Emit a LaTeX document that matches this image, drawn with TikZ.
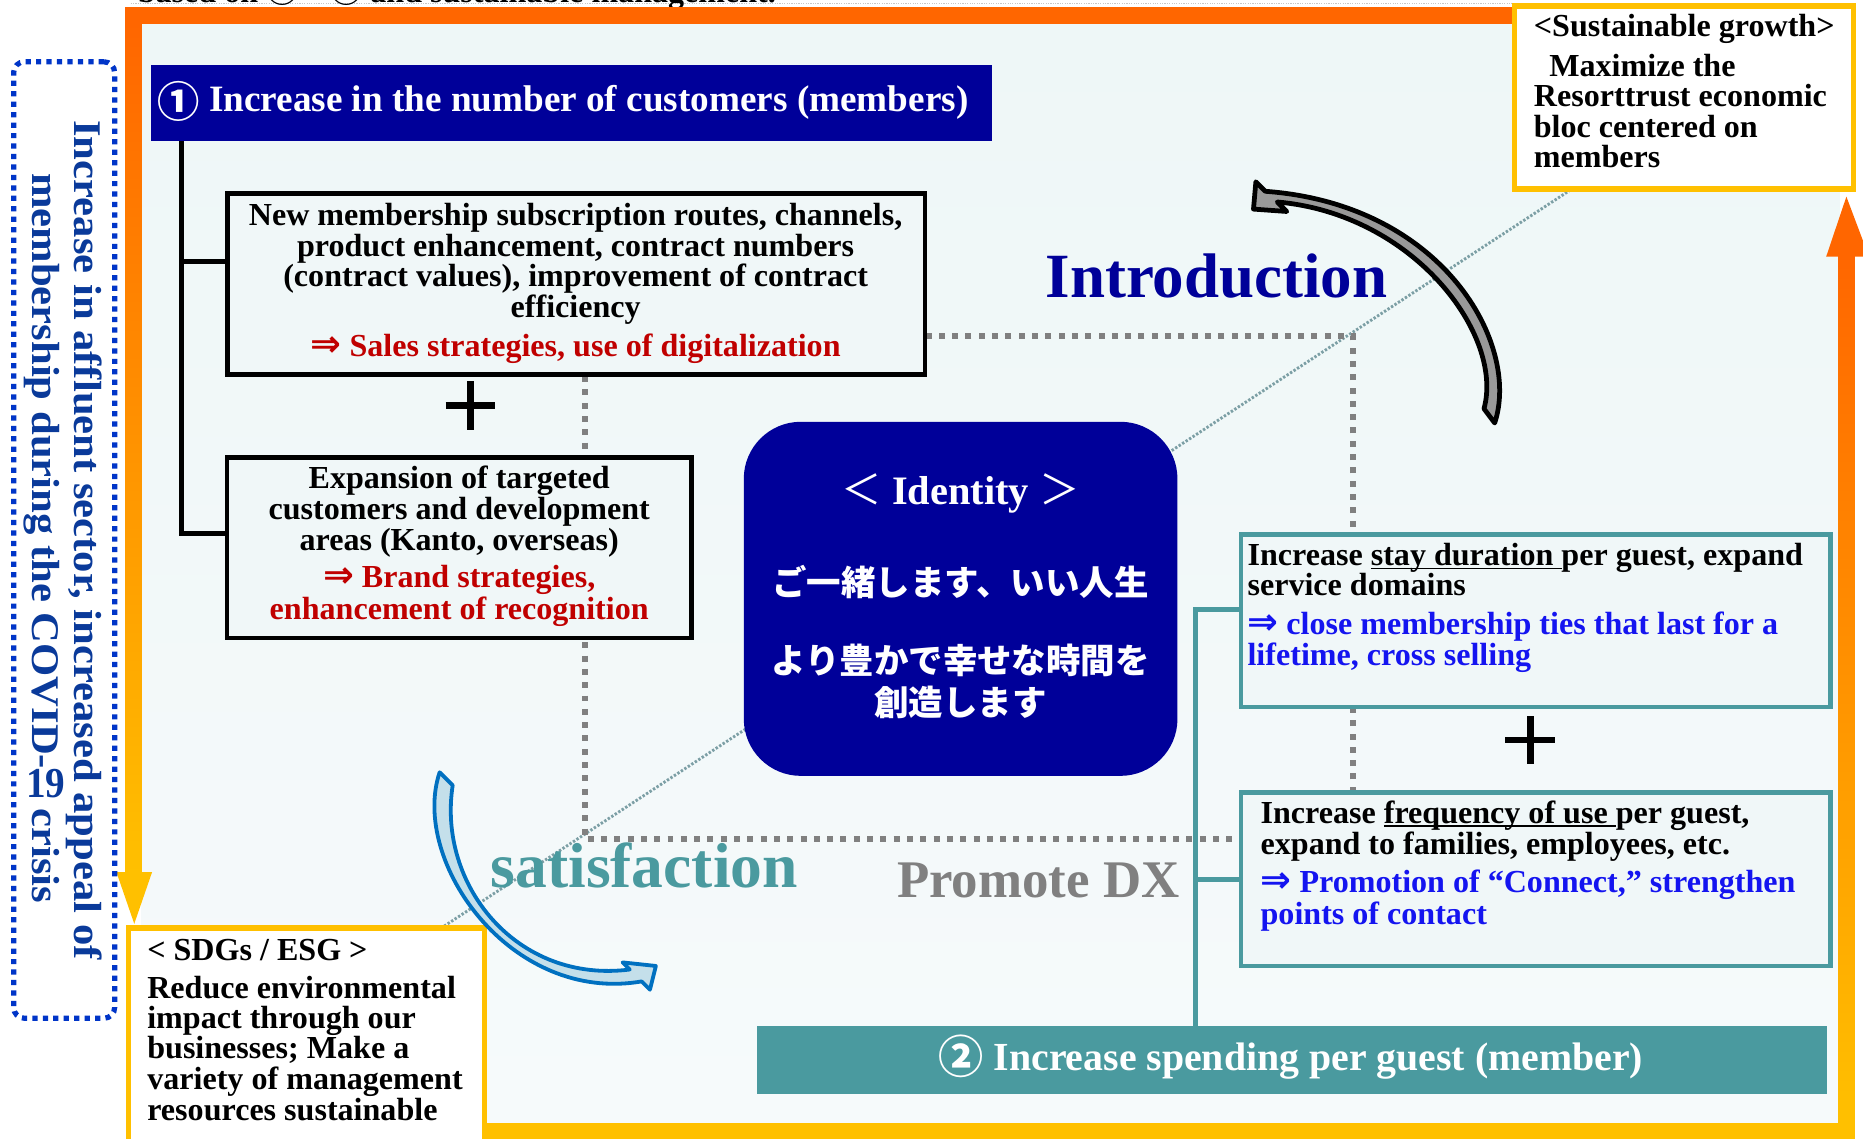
\documentclass[tikz,border=0pt]{standalone}
\usepackage{fontspec}
\usepackage{graphicx}
\setmainfont{Liberation Serif}
\newfontfamily\cjk{Noto Sans CJK JP}
\newfontfamily\symf{DejaVu Sans}
\usetikzlibrary{calc}
\definecolor{cNavy}{HTML}{000099}
\definecolor{cTeal}{HTML}{4A9A9F}
\definecolor{cAmber}{HTML}{FFC000}
\definecolor{cOrange}{HTML}{FF6600}
\definecolor{cRed}{HTML}{C00000}
\definecolor{cBlue}{HTML}{1414F0}
\definecolor{cGrey}{HTML}{808080}
\definecolor{cBgA}{HTML}{EEF7F7}
\definecolor{cBgB}{HTML}{F6FAFB}
\definecolor{cBox}{HTML}{F0F7F8}
\definecolor{cDotBlue}{HTML}{0035C8}
\definecolor{cVText}{HTML}{0A3A9A}
\definecolor{cDiag}{HTML}{7C9FA5}
\definecolor{cArrBlue}{HTML}{0070C0}
\definecolor{cArrFill}{HTML}{C4DFEA}
\newcommand\myul[1]{\setbox0\hbox{#1}\rlap{\rule[-3.2pt]{\wd0}{1.5pt}}\box0}
\newcommand\darr{\smash{\symf\fontsize{31}{26}\selectfont ⇒}}
\begin{document}
\begin{tikzpicture}[x=1pt,y=-1pt,
  every node/.style={inner sep=0pt,outer sep=0pt},
  body/.style={font=\bfseries\fontsize{27}{26}\selectfont},
  vfont/.style={font=\bfseries\fontsize{33}{33}\selectfont,text=cVText},
  blackbox/.style={draw=black,line width=4pt,fill=cBox},
  tealbox/.style={draw=cTeal,line width=4pt,fill=cBox},
  amberbox/.style={draw=cAmber,line width=4.5pt,fill=white},
  blackline/.style={draw=black,line width=4pt},
  tealline/.style={draw=cTeal,line width=4pt},
  greydot/.style={draw=cGrey,line width=5pt,dash pattern=on 5pt off 6.2pt},
  diagline/.style={draw=cDiag,line width=2.4pt,dash pattern=on 2pt off 1.5pt},
  plusline/.style={draw=black,line width=5.5pt},
  ]
\useasboundingbox (0,0) rectangle (1568,958);
\fill[white] (0,0) rectangle (1568,958);

% cut-off text at the top
\begin{scope}
\clip (0,0) rectangle (1568,958);
\draw[black!22,line width=0.8pt,dash pattern=on 1pt off 1pt] (110,3.3) -- (1275,3.3);
\node[body,anchor=base west] (toptext) at (116,2.4) {based on {\cjk ①} – {\cjk ②} and sustainable management.};
\end{scope}

% inner background
\shade[top color=cBgA,bottom color=cBgB] (119,19) rectangle (1548,946);

% diagonal
\coordinate (dgA) at (119,946);
\coordinate (dgB) at (1548,12);
\draw[diagline] (dgA) -- (dgB);

% grey dotted rectangle
\coordinate (dtl) at (492,283);
\coordinate (dbr) at (1139,706);
\draw[greydot] (dtl) rectangle (dbr);

% frame arrows
\fill[cOrange] (105.5,6) rectangle (1280,20);
\shade[top color=cOrange,bottom color=cAmber] (105.5,19.5) rectangle (119.5,735);
\fill[cAmber] (98,734) -- (128,734) -- (113,777.5) -- cycle;
\fill[cAmber] (400,945) rectangle (1561,962);
\shade[top color=cOrange,bottom color=cAmber] (1547,214) rectangle (1561,946);
\fill[cOrange] (1537,216) -- (1573,216) -- (1554,165.5) -- cycle;

% left dotted box
\node[draw=cDotBlue,line width=4.4pt,dash pattern=on 4.4pt off 4.4pt,rounded corners=9pt,minimum width=85pt,minimum height=805pt] (leftbox) at (54,454.5) {};
\node[vfont,rotate=-90,anchor=base] (vt1) at (63,454.5) {\scalebox{1.088}[1]{Increase in affluent sector, increased appeal of}};
\node[vfont,rotate=-90,anchor=base] (vt2) at (27,453) {\scalebox{1.088}[1]{membership during the COVID-\raisebox{-5pt}{\rotatebox{90}{19}} crisis}};

% header 1
\node[fill=cNavy,minimum width=708pt,minimum height=64pt] (hdr1) at (481,87) {};
\node[anchor=base west,text=white,font=\bfseries\fontsize{31.3}{31}\selectfont] (hdr1t) at (132.5,94) {\raisebox{-4.5pt}{\fontsize{35.6}{35}\selectfont\cjk ①} Increase in the number of customers (members)};

% box A
\node[blackbox,minimum width=587pt,minimum height=152.5pt] (boxA) at (485,239.25) {};
\node[body,anchor=base] (tA1) at (484.5,189.5) {New membership subscription routes, channels,};
\node[body,anchor=base] (tA2) at (484.5,215.5) {product enhancement, contract numbers};
\node[body,anchor=base] (tA3) at (484.5,241.5) {(contract values), improvement of contract};
\node[body,anchor=base] (tA4) at (484.5,267) {efficiency};
\node[body,anchor=base,text=cRed] (tA5) at (484.5,300) {\darr\ Sales strategies, use of digitalization};

% box B
\node[blackbox,minimum width=391pt,minimum height=152pt] (boxB) at (386.5,461) {};
\node[body,anchor=base] (tB1) at (386.5,411) {Expansion of targeted};
\node[body,anchor=base] (tB2) at (386.5,437) {customers and development};
\node[body,anchor=base] (tB3) at (386.5,463) {areas (Kanto, overseas)};
\node[body,anchor=base,text=cRed] (tB4) at (386.5,494.5) {\darr\ Brand strategies,};
\node[body,anchor=base,text=cRed] (tB5) at (386.5,521) {enhancement of recognition};

% black bracket
\coordinate (bA) at (153,220);
\coordinate (bB) at (153,449);
\draw[blackline] (hdr1.south -| bA) -- (bB) -- (boxB.west |- bB);
\draw[blackline] (bA) -- (boxA.west |- bA);

% plus A
\coordinate (plusA) at (396,341.5);
\draw[plusline] ($(plusA)+(0,-20.5)$) -- ($(plusA)+(0,20.5)$) ($(plusA)+(-21,0)$) -- ($(plusA)+(21,0)$);

% identity box
\node[fill=cNavy,rounded corners=48pt,minimum width=365pt,minimum height=298pt] (ident) at (808.5,504) {};
\node[anchor=base,text=white,font=\bfseries\fontsize{34}{34}\selectfont] (tI1) at (808.5,425) {{\mdseries\cjk ＜} Identity {\mdseries\cjk ＞}};
\node[anchor=base,text=white,font=\cjk\bfseries\fontsize{29}{29}\selectfont] (tI2) at (808.5,501) {ご一緒します、いい人生};
\node[anchor=base,text=white,font=\cjk\bfseries\fontsize{29}{29}\selectfont] (tI3) at (808.5,567) {より豊かで幸せな時間を};
\node[anchor=base,text=white,font=\cjk\bfseries\fontsize{29}{29}\selectfont] (tI4) at (808.5,602) {創造します};

% big words
\node[anchor=base west,text=cNavy,font=\bfseries\fontsize{53}{53}\selectfont] (intro) at (880,250) {Introduction};
\node[anchor=base west,text=cTeal,font=\bfseries\fontsize{53.5}{53}\selectfont] (satis) at (413,747) {satisfaction};
\node[anchor=base west,text=cGrey,font=\bfseries\fontsize{44.5}{44}\selectfont] (pdx) at (755,755) {Promote DX};

% boxes C and D
\node[tealbox,minimum width=496pt,minimum height=145pt] (boxC) at (1292.5,522.5) {};
\node[body,anchor=base west] (tC1) at (1050,476) {Increase \myul{stay duration }per guest, expand};
\node[body,anchor=base west] (tC2) at (1050,501) {service domains};
\node[body,anchor=base west,text=cBlue] (tC3) at (1050,534) {\darr\ close membership ties that last for a};
\node[body,anchor=base west,text=cBlue] (tC4) at (1050,560.5) {lifetime, cross selling};

\node[tealbox,minimum width=496pt,minimum height=146pt] (boxD) at (1292.5,740) {};
\node[body,anchor=base west] (tD1) at (1061,693) {Increase \myul{frequency of use }per guest,};
\node[body,anchor=base west] (tD2) at (1061,719) {expand to families, employees, etc.};
\node[body,anchor=base west,text=cBlue] (tD3) at (1061,751.5) {\darr\ Promotion of “Connect,” strengthen};
\node[body,anchor=base west,text=cBlue] (tD4) at (1061,778) {points of contact};

% plus C
\coordinate (plusC) at (1288,623);
\draw[plusline] ($(plusC)+(0,-20)$) -- ($(plusC)+(0,20)$) ($(plusC)+(-21,0)$) -- ($(plusC)+(21,0)$);

% bar 2
\node[fill=cTeal,minimum width=901pt,minimum height=57.5pt] (bar2) at (1087.5,892.25) {};
\node[anchor=base west,text=white,font=\bfseries\fontsize{33.5}{33}\selectfont] (bar2t) at (790,901) {\raisebox{-2.5pt}{\fontsize{38}{38}\selectfont\cjk ②} Increase spending per guest (member)};

% teal bracket
\coordinate (tC) at (1006,513);
\draw[tealline] (boxC.west |- tC) -- (tC) -- (tC |- bar2.north);
\draw[tealline] (boxD.west) -- (boxD.west -| tC);

% sustainable growth box
\node[amberbox,minimum width=285.5pt,minimum height=154pt] (sust) at (1417.25,82) {};
\node[body,anchor=base west] (tS1) at (1291,31) {<Sustainable growth>};
\node[body,anchor=base west] (tS2) at (1304,64) {Maximize the};
\node[body,anchor=base west] (tS3) at (1291,90) {Resorttrust economic};
\node[body,anchor=base west] (tS4) at (1291,115.5) {bloc centered on};
\node[body,anchor=base west] (tS5) at (1291,141) {members};

% SDGs box
\node[amberbox,minimum width=300pt,minimum height=185pt] (sdg) at (258,873.5) {};
\node[body,anchor=base west] (tE1) at (124,808) {< SDGs / ESG >};
\node[body,anchor=base west] (tE2) at (124,840) {Reduce environmental};
\node[body,anchor=base west] (tE3) at (124,865.5) {impact through our};
\node[body,anchor=base west] (tE4) at (124,891) {businesses; Make a};
\node[body,anchor=base west] (tE5) at (124,917) {variety of management};
\node[body,anchor=base west] (tE6) at (124,943) {resources sustainable};

% black curved arrow
\draw[line width=4pt,fill=black!40,line join=round] (1258,356) .. controls (1280,290) and (1215,172) .. (1065,161) -- (1057,153) -- (1055,176) -- (1083,178) -- (1075,170) .. controls (1190,180) and (1266,282) .. (1249,344) -- cycle;

% blue curved arrow
\draw[line width=3.2pt,draw=cArrBlue,fill=cArrFill,line join=round] (370,650) .. controls (345,725) and (430,845) .. (540,826) -- (547,833) -- (552,813) -- (524,810) -- (530,816) .. controls (435,828) and (368,745) .. (381,661) -- cycle;
\end{tikzpicture}
\end{document}
